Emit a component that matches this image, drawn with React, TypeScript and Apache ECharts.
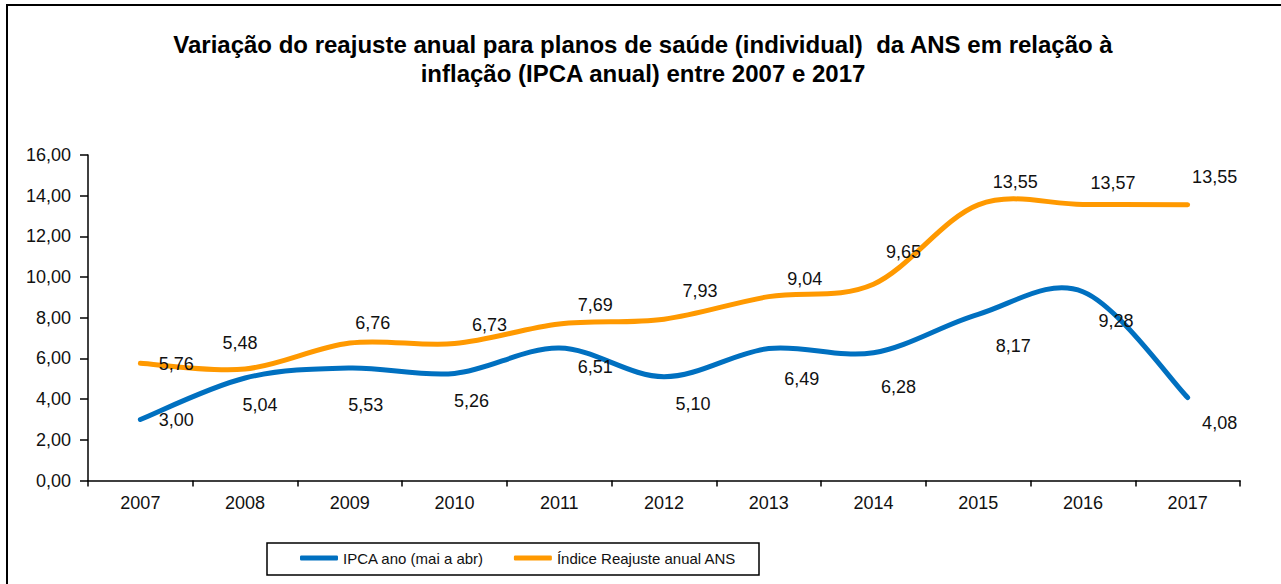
import React, { useEffect, useRef } from "react";
import * as echarts from "echarts";

const years = ["2007", "2008", "2009", "2010", "2011", "2012", "2013", "2014", "2015", "2016", "2017"];
const ipca = [3.0, 5.04, 5.53, 5.26, 6.51, 5.1, 6.49, 6.28, 8.17, 9.28, 4.08];
const ans = [5.76, 5.48, 6.76, 6.73, 7.69, 7.93, 9.04, 9.65, 13.55, 13.57, 13.55];
const yTicks = { min: 0, max: 16, interval: 2 };

const titleLine1 = "Variação do reajuste anual para planos de saúde (individual)  da ANS em relação à";
const titleLine2 = "inflação (IPCA anual) entre 2007 e 2017";
const ipcaName = "IPCA ano (mai a abr)";
const ansName = "Índice Reajuste anual ANS";

// label placement (styling only): offset of each value label from its point
const ipcaLabelOffsets = [[36, 1], [15, 27], [16, 37], [17, 28], [36, 19], [29, 27], [33, 31], [25, 34], [35, 32], [33, 29], [32, 26]];
const ansLabelOffsets = [[36, 1], [-5, -26], [23, -20], [35, -19], [36, -19], [36, -28], [36, -18], [30, -32], [37, -23], [30, -21], [27, -28]];

const FONT = "'Liberation Sans', Arial, sans-serif";
const BLUE = "#0070C0";
const ORANGE = "#FF9900";
const fmt = (v: number) => v.toFixed(2).replace(".", ",");

function buildData(values: number[], offsets: number[][]) {
  return values.map((v, i) => ({
    value: v,
    label: { offset: offsets[i] },
  }));
}

// Excel-like smoothed curve (Catmull-Rom through the data points, placed by the axes)
function curveSeries(name: string, values: number[], color: string) {
  return {
    name,
    type: "custom",
    coordinateSystem: "cartesian2d",
    itemStyle: { color },
    z: 2,
    data: values.map((v, i) => [i, v]),
    renderItem: (params: any, api: any) => {
      if (params.dataIndex !== 0) return null;
      const pts = values.map((v, i) => api.coord([i, v]));
      let d = `M${pts[0][0]},${pts[0][1]}`;
      for (let i = 0; i < pts.length - 1; i++) {
        const p0 = pts[i - 1] || pts[i];
        const p1 = pts[i];
        const p2 = pts[i + 1];
        const p3 = pts[i + 2] || pts[i + 1];
        const c1x = p1[0] + (p2[0] - p0[0]) / 6;
        const c1y = p1[1] + (p2[1] - p0[1]) / 6;
        const c2x = p2[0] - (p3[0] - p1[0]) / 6;
        const c2y = p2[1] - (p3[1] - p1[1]) / 6;
        d += ` C${c1x},${c1y} ${c2x},${c2y} ${p2[0]},${p2[1]}`;
      }
      return {
        type: "path",
        shape: { pathData: d },
        style: { fill: "none", stroke: color, lineWidth: 5, lineCap: "round", lineJoin: "round" },
      };
    },
  };
}

export default function App() {
  const ref = useRef<HTMLDivElement>(null);
  useEffect(() => {
    if (!ref.current) return;
    const chart = echarts.init(ref.current, null, { renderer: "svg" });
    const seriesLabel = {
      show: true,
      position: "inside",
      color: "#111",
      fontSize: 18,
      fontFamily: FONT,
      formatter: (p: any) => fmt(p.value),
    };
    const labelSeries = (id: string, values: number[], offsets: number[][]) => ({
      name: id,
      type: "line",
      z: 5,
      symbol: "circle",
      symbolSize: 1,
      showSymbol: true,
      lineStyle: { width: 0, opacity: 0 },
      itemStyle: { color: "rgba(0,0,0,0)" },
      label: seriesLabel,
      data: buildData(values, offsets),
    });
    chart.setOption({
      animation: false,
      backgroundColor: "#fff",
      textStyle: { fontFamily: FONT },
      graphic: [
        {
          type: "rect",
          shape: { x: 7, y: 5, width: 1400, height: 700 },
          style: { fill: "none", stroke: "#000", lineWidth: 2 },
          silent: true,
        },
        {
          type: "text",
          x: 643,
          y: 44,
          style: {
            text: titleLine1,
            font: `bold 24px ${FONT}`,
            fill: "#000",
            textAlign: "center",
            textVerticalAlign: "middle",
          },
        },
        {
          type: "text",
          x: 643,
          y: 73,
          style: {
            text: titleLine2,
            font: `bold 24px ${FONT}`,
            fill: "#000",
            textAlign: "center",
            textVerticalAlign: "middle",
          },
        },
        {
          type: "rect",
          shape: { x: 267, y: 543, width: 492, height: 32 },
          style: { fill: "none", stroke: "#000", lineWidth: 1.5 },
          silent: true,
        },
      ],
      legend: {
        left: 300,
        top: 549,
        padding: 0,
        itemGap: 30,
        itemWidth: 38,
        itemHeight: 5,
        icon: "roundRect",
        textStyle: { fontSize: 15, lineHeight: 18, color: "#111", fontFamily: FONT },
        data: [ipcaName, ansName],
      },
      grid: { left: 88, right: 41, top: 155, bottom: 103.5, containLabel: false },
      xAxis: {
        type: "category",
        data: years,
        boundaryGap: true,
        axisLine: { show: true, lineStyle: { color: "#000", width: 1.5 } },
        axisTick: { show: true, length: 6, lineStyle: { color: "#000", width: 1.5 } },
        axisLabel: { color: "#111", fontSize: 18, margin: 13, fontFamily: FONT },
        splitLine: { show: false },
      },
      yAxis: {
        type: "value",
        min: yTicks.min,
        max: yTicks.max,
        interval: yTicks.interval,
        axisLine: { show: true, lineStyle: { color: "#000", width: 1.5 } },
        axisTick: { show: true, length: 8, lineStyle: { color: "#000", width: 1.5 } },
        axisLabel: { color: "#111", fontSize: 18, margin: 17, fontFamily: FONT, formatter: (v: number) => fmt(v) },
        splitLine: { show: false },
      },
      series: [
        curveSeries(ipcaName, ipca, BLUE),
        curveSeries(ansName, ans, ORANGE),
        labelSeries("ipca-labels", ipca, ipcaLabelOffsets),
        labelSeries("ans-labels", ans, ansLabelOffsets),
      ],
    });
    return () => chart.dispose();
  }, []);
  return (
    <div
      ref={ref}
      style={{ position: "fixed", left: 0, top: 0, width: 1281, height: 584, background: "#fff" }}
    />
  );
}
